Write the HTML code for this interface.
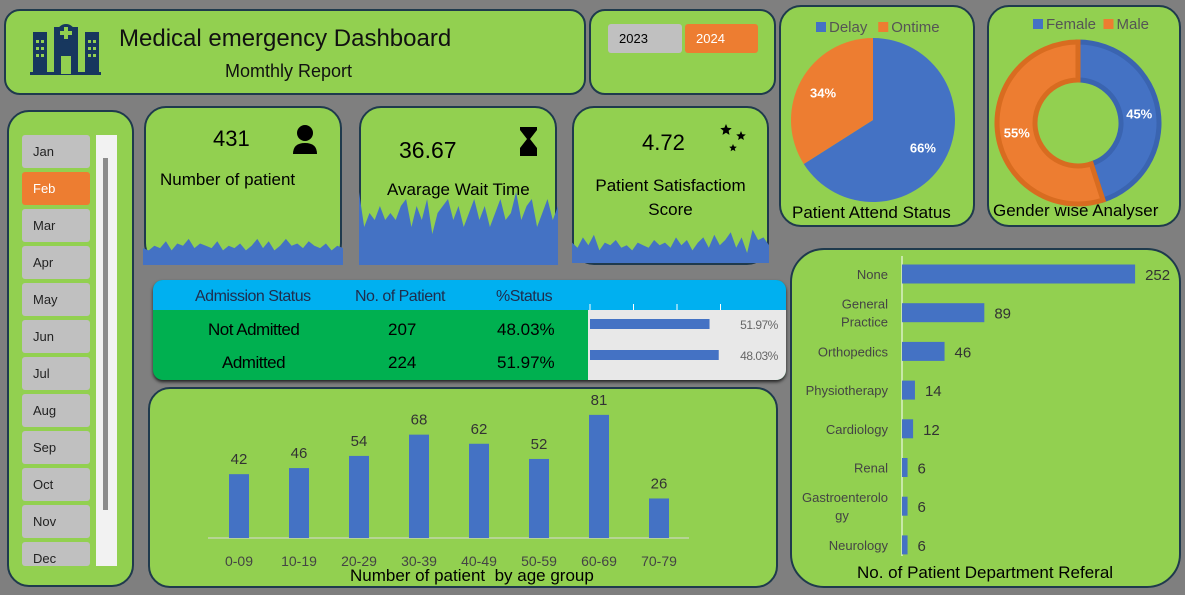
<!DOCTYPE html>
<html><head><meta charset="utf-8">
<style>
body{margin:0;width:1185px;height:595px;background:#7f7f7f;overflow:hidden;font-family:"Liberation Sans",sans-serif;position:relative}
.card{position:absolute;background:#92d050;border:2px solid #1f3a4d;box-sizing:border-box;border-radius:22px}
.t{position:absolute;white-space:nowrap}
.mb{position:absolute;left:22px;width:68px;height:33px;background:#c0c0c0;border-radius:3px;font-size:13px;line-height:33px;box-sizing:border-box;padding-left:11px;color:#222}
svg{position:absolute;left:0;top:0}
</style></head><body>
<div class="card" style="left:4px;top:9px;width:582px;height:86px;border-radius:16px"></div>
<svg width="1185" height="595" style="pointer-events:none">
<g fill="#17375e"><rect x="33" y="32" width="14" height="42"/><rect x="54" y="27" width="24" height="47"/><rect x="85" y="32" width="14" height="42"/><rect x="30" y="72" width="71" height="3"/><circle cx="66" cy="33" r="9"/></g>
<g fill="#92d050"><rect x="64" y="27" width="4" height="12"/><rect x="60" y="31" width="12" height="4"/><rect x="61" y="56" width="10" height="18"/>
<rect x="36" y="40" width="3" height="3"/><rect x="41" y="40" width="3" height="3"/><rect x="36" y="47" width="3" height="3"/><rect x="41" y="47" width="3" height="3"/><rect x="36" y="54" width="3" height="3"/><rect x="41" y="54" width="3" height="3"/>
<rect x="88" y="40" width="3" height="3"/><rect x="93" y="40" width="3" height="3"/><rect x="88" y="47" width="3" height="3"/><rect x="93" y="47" width="3" height="3"/><rect x="88" y="54" width="3" height="3"/><rect x="93" y="54" width="3" height="3"/></g>
</svg>
<div class="t" style="left:119px;top:25px;font-size:24px;color:#111">Medical emergency Dashboard</div>
<div class="t" style="left:225px;top:61px;font-size:18px;color:#111">Momthly Report</div>

<div class="card" style="left:589px;top:9px;width:187px;height:86px;border-radius:16px"></div>
<div class="t" style="left:608px;top:24px;width:74px;height:29px;background:#c0c0c0;border-radius:3px;font-size:13px;line-height:29px;padding-left:11px;box-sizing:border-box">2023</div>
<div class="t" style="left:685px;top:24px;width:73px;height:29px;background:#ed7d31;color:#fff;border-radius:3px;font-size:13px;line-height:29px;padding-left:11px;box-sizing:border-box">2024</div>

<div class="card" style="left:7px;top:110px;width:127px;height:477px"></div>
<div id="months"></div>
<div class="t" style="left:96px;top:135px;width:21px;height:431px;background:#f2f2f2"></div>
<div class="t" style="left:103px;top:158px;width:5px;height:352px;background:#8c8c8c"></div>

<div class="card" style="left:144px;top:106px;width:198px;height:159px;overflow:hidden"></div>
<div class="card" style="left:359px;top:106px;width:198px;height:159px;overflow:hidden"></div>
<div class="card" style="left:572px;top:106px;width:197px;height:159px;overflow:hidden"></div>
<div class="t" style="left:213px;top:126px;font-size:22px">431</div>
<div class="t" style="left:160px;top:170px;font-size:17px">Number of patient</div>
<div class="t" style="left:399px;top:137px;font-size:23px">36.67</div>
<div class="t" style="left:387px;top:180px;font-size:17px">Avarage Wait Time</div>
<div class="t" style="left:642px;top:130px;font-size:22px">4.72</div>
<div class="t" style="left:572px;top:174px;width:197px;text-align:center;font-size:17px;line-height:24px;white-space:normal">Patient Satisfactiom<br>Score</div>

<div class="t" style="left:153px;top:280px;width:633px;height:100px;border-radius:10px;overflow:hidden;box-shadow:0 2px 3px #222;background:#00b050">
<div style="position:absolute;left:0;top:0;width:633px;height:30px;background:#00b0f0"></div>
<div style="position:absolute;left:435px;top:30px;width:198px;height:70px;background:#e8e8e8"></div>
</div>
<div class="t" style="left:195px;top:288px;font-size:16px;color:#1f2d4d;letter-spacing:-0.5px">Admission Status</div>
<div class="t" style="left:355px;top:288px;font-size:16px;color:#1f2d4d;letter-spacing:-0.5px">No. of Patient</div>
<div class="t" style="left:496px;top:288px;font-size:16px;color:#1f2d4d;letter-spacing:-0.5px">%Status</div>
<div class="t" style="left:208px;top:320px;font-size:17px;letter-spacing:-0.5px">Not Admitted</div>
<div class="t" style="left:388px;top:320px;font-size:17px">207</div>
<div class="t" style="left:497px;top:320px;font-size:17px">48.03%</div>
<div class="t" style="left:222px;top:353px;font-size:17px;letter-spacing:-0.5px">Admitted</div>
<div class="t" style="left:388px;top:353px;font-size:17px">224</div>
<div class="t" style="left:497px;top:353px;font-size:17px">51.97%</div>

<div class="card" style="left:148px;top:387px;width:630px;height:201px"></div>
<div class="t" style="left:350px;top:566px;font-size:17px">Number of patient&nbsp; by age group</div>

<div class="card" style="left:779px;top:5px;width:196px;height:222px"></div>
<div class="card" style="left:987px;top:5px;width:194px;height:222px"></div>
<div class="t" style="left:792px;top:203px;font-size:17px">Patient Attend Status</div>
<div class="t" style="left:993px;top:201px;font-size:17px">Gender wise Analyser</div>

<div class="card" style="left:790px;top:248px;width:391px;height:340px;border-radius:34px"></div>
<div class="t" style="left:857px;top:563px;font-size:17px">No. of Patient Department Referal</div>

<svg id="charts" width="1185" height="595"></svg>

<script>
const NS='http://www.w3.org/2000/svg';
const svg=document.getElementById('charts');
function mk(tag,at,parent){const e=document.createElementNS(NS,tag);for(const k in at)e.setAttribute(k,at[k]);(parent||svg).appendChild(e);return e;}

// months
const months=['Jan','Feb','Mar','Apr','May','Jun','Jul','Aug','Sep','Oct','Nov','Dec'];
const mc=document.getElementById('months');
months.forEach((m,i)=>{const d=document.createElement('div');d.className='mb';


d.style.top=(135+i*37)+'px';d.textContent=m;
if(m==='Feb'){d.style.background='#ed7d31';d.style.color='#fff';}
if(m==='Dec'){d.style.height='24px';d.style.overflow='hidden';}
mc.appendChild(d);});

// sparklines
const sparkPatients=[3,2,4,3,6,2,5,4,7,3,5,4,3,6,2,4,3,5,2,4,7,3,6,2,4,7,4,5,3,6,4,3,5,2,4,3];
const sparkWait=[9,4,6,5,7,5,6,5,7,8,4,7,5,8,3,6,7,8,5,7,4,6,8,5,7,4,6,8,5,6,9,5,7,8,4,6,8,5,7];
const sparkSat=[4,2,6,3,7,1,4,3,5,2,3,1,4,3,2,5,3,4,2,6,3,5,1,4,6,2,7,3,5,8,2,6,0,9,5,6,3];
function spark(vals,x0,x1,base,scale,name){
  const step=(x1-x0)/(vals.length-1);let d='M'+x0+','+base;
  vals.forEach((v,i)=>{d+=' L'+(x0+i*step).toFixed(1)+','+(base-10-v*scale).toFixed(1);});
  d+=' L'+x1+','+base+' Z';
  const p=mk('path',{d:d,fill:'#4472c4'});
  
  
}
spark(sparkPatients,143,343,265,2.3,'patients-sparkline');
spark(sparkWait,359,558,265,7,'wait-sparkline');
spark(sparkSat,572,769,263,2.6,'satisfaction-sparkline');

// icons
mk('circle',{cx:305,cy:133,r:8,fill:'#000'});
mk('path',{d:'M293,154 q0,-11 12,-11 q12,0 12,11 z',fill:'#000'});
mk('path',{d:'M520,127 h17 v3 l-7,9 l7,9 v8 h-17 v-8 l7,-9 l-7,-9z',fill:'#000'});
function star(cx,cy,r){let d='';for(let i=0;i<10;i++){const a=-Math.PI/2+i*Math.PI/5;const rr=i%2?r*0.45:r;d+=(i?'L':'M')+(cx+rr*Math.cos(a)).toFixed(1)+','+(cy+rr*Math.sin(a)).toFixed(1);}mk('path',{d:d+'Z',fill:'#000'});}
star(726,130,6);star(741,136,5);star(733,148,4);

// admission mini bars
const admPct=[51.97,48.03];
const admBar=[0.5197,0.5597];
const admLabels=['51.97%','48.03%'];
const ax0=590,aw=230;
[0,1,2,3].forEach(i=>mk('line',{x1:ax0+i*43.5,y1:304,x2:ax0+i*43.5,y2:310,stroke:'#fff','stroke-width':1}));
admBar.forEach((v,i)=>{const y=319+i*31;
 const r=mk('rect',{x:ax0,y:y,width:v*aw,height:10,fill:'#4472c4'});
 
 
 const t=mk('text',{x:759,y:y+10,'text-anchor':'middle','font-size':12,fill:'#666','font-family':'Liberation Sans','letter-spacing':'-0.5'});t.textContent=admLabels[i];});

// age chart
const ageCats=['0-09','10-19','20-29','30-39','40-49','50-59','60-69','70-79'];
const ageVals=[42,46,54,68,62,52,81,26];
const ageBase=538,ageScale=1.52;
const ax=i=>239+i*60;const ay=v=>ageBase-v*ageScale;
mk('line',{x1:208,y1:ageBase,x2:689,y2:ageBase,stroke:'#d9d9d9','stroke-width':1});
ageCats.forEach((c,i)=>{
 const r=mk('rect',{x:ax(i)-10,y:ay(ageVals[i]),width:20,height:ageBase-ay(ageVals[i]),fill:'#4472c4'});
 
 
 const v=mk('text',{x:ax(i),y:ay(ageVals[i])-10,'text-anchor':'middle','font-size':15,fill:'#333','font-family':'Liberation Sans'});v.textContent=ageVals[i];
 const l=mk('text',{x:ax(i),y:566,'text-anchor':'middle','font-size':14,fill:'#444','font-family':'Liberation Sans'});l.textContent=c;
});

// dept chart
const deptCats=['None','General|Practice','Orthopedics','Physiotherapy','Cardiology','Renal','Gastroenterolo|gy','Neurology'];
const deptVals=[252,89,46,14,12,6,6,6];
const dx0=902,dScale=0.925;
const dy=i=>274+i*38.7;
mk('line',{x1:dx0,y1:256,x2:dx0,y2:556,stroke:'#fff','stroke-width':1});
deptCats.forEach((c,i)=>{
 const w=deptVals[i]*dScale;
 const r=mk('rect',{x:dx0,y:dy(i)-9.5,width:w,height:19,fill:'#4472c4'});
 
 
 const v=mk('text',{x:dx0+w+10,y:dy(i)+6,'font-size':15,fill:'#333','font-family':'Liberation Sans'});v.textContent=deptVals[i];
 const parts=c.split('|');
 parts.forEach((p,j)=>{const t=mk('text',{x:888,y:dy(i)+5+(parts.length>1?(j*18-9):0),'text-anchor':'end','font-size':13,fill:'#444','font-family':'Liberation Sans'});
 if(p==='gy'){t.setAttribute('x',842);t.setAttribute('text-anchor','middle');}
 t.textContent=p;});
});

// pie
const pieLabels=['Delay','Ontime'];
const pieVals=[66,34];
const pieColors=['#4472c4','#ed7d31'];
function arcPath(cx,cy,r,ri,a0,a1){
 const p=(a,rr)=>[cx+rr*Math.sin(a),cy-rr*Math.cos(a)];const lg=(a1-a0)>Math.PI?1:0;
 const [x0,y0]=p(a0,r),[x1,y1]=p(a1,r);
 if(!ri)return `M${cx},${cy} L${x0},${y0} A${r},${r} 0 ${lg} 1 ${x1},${y1} Z`;
 const [x2,y2]=p(a1,ri),[x3,y3]=p(a0,ri);
 return `M${x0},${y0} A${r},${r} 0 ${lg} 1 ${x1},${y1} L${x2},${y2} A${ri},${ri} 0 ${lg} 0 ${x3},${y3} Z`;}
function ring(labels,vals,cx,cy,r,ri,prefix,labR){
 const tot=vals.reduce((a,b)=>a+b,0);let a=0;
 vals.forEach((v,i)=>{const a1=a+v/tot*2*Math.PI;
  const p=mk('path',{d:arcPath(cx,cy,r,ri,a,a1),fill:pieColors[i],stroke:ri?(i?'#d86c20':'#3a64b0'):'none','stroke-width':ri?5:0});
  
  
  const m=(a+a1)/2;const t=mk('text',{x:cx+labR*Math.sin(m),y:cy-labR*Math.cos(m)+5,'text-anchor':'middle','font-size':13,'font-weight':'bold',fill:'#fff','font-family':'Liberation Sans'});t.textContent=v+'%';
  a=a1;});
}
ring(pieLabels,pieVals,873,120,82,0,'pie',57);
const donutLabels=['Female','Male'];
const donutVals=[45,55];
ring(donutLabels,donutVals,1078,123,81,43,'donut',62);
// legends
function legend(items,x,y,size){let cx=x;items.forEach((s,i)=>{mk('rect',{x:cx,y:y-10,width:10,height:10,fill:pieColors[i]});const t=mk('text',{x:cx+13,y:y,'font-size':size,fill:'#555','font-family':'Liberation Sans'});t.textContent=s;cx+=13+s.length*size*0.55+8;});}
legend(pieLabels,816,32,15);
legend(donutLabels,1033,29,15);
</script>
</body></html>
